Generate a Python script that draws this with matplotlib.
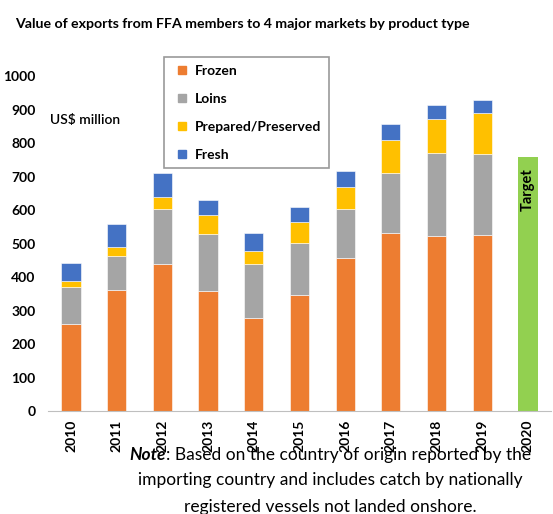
import numpy as np
import matplotlib.pyplot as plt
from matplotlib.lines import Line2D

plt.rcParams['font.family'] = ['Lato', 'DejaVu Sans']

# values in US$ million
years = ['2010', '2011', '2012', '2013', '2014', '2015', '2016', '2017', '2018', '2019', '2020']
frozen = [259, 361, 439, 360, 277, 348, 456, 533, 523, 525]
loins = [113, 101, 165, 169, 162, 153, 147, 179, 247, 243]
prepared = [16, 29, 35, 55, 40, 65, 67, 96, 101, 122]
fresh = [53, 68, 71, 47, 54, 43, 48, 48, 44, 40]
target = 760

colors = {'Frozen': '#ED7D31', 'Loins': '#A5A5A5',
          'Prepared/Preserved': '#FFC000', 'Fresh': '#4472C4'}

fig = plt.figure(figsize=(5.53, 5.14), dpi=100)
ax = fig.add_axes([0.087, 0.2, 0.909, 0.652])

x = np.arange(len(frozen))
w = 0.42
bottom = np.zeros(len(frozen))
for name, vals in [('Frozen', frozen), ('Loins', loins),
                   ('Prepared/Preserved', prepared), ('Fresh', fresh)]:
    ax.bar(x, vals, w, bottom=bottom, color=colors[name], label=name,
           edgecolor='white', linewidth=0.4)
    bottom += np.array(vals)

# 2020 target bar
ax.bar(len(frozen), target, w, color='#92D050')
ax.text(len(frozen), 660, 'Target', rotation=90, ha='center', va='center',
        fontsize=10.5, fontweight='bold')

ax.set_xlim(-0.5, 10.5)
ax.set_ylim(0, 1000)
ax.set_yticks(range(0, 1001, 100))
ax.set_xticks(range(len(years)))
ax.set_xticklabels(years, rotation=90, fontsize=10, fontweight='bold')
for lab in ax.get_yticklabels():
    lab.set_fontweight('bold')
    lab.set_fontsize(10)
ax.tick_params(axis='both', length=0, pad=6)
ax.tick_params(axis='y', pad=9)
for s in ['top', 'right', 'left']:
    ax.spines[s].set_visible(False)
ax.spines['bottom'].set_color('#BFBFBF')

ax.text(-0.46, 870, 'US$ million', fontsize=10, fontweight='semibold', va='center')

# legend with small square markers
handles = [Line2D([], [], marker='s', linestyle='none', markersize=6,
                  color=c, label=n) for n, c in colors.items()]
leg = ax.legend(handles=handles, loc='upper left', bbox_to_anchor=(0.23, 1.057),
                fontsize=10, frameon=True, fancybox=False, handlelength=1.6,
                labelspacing=1.15, borderpad=0.55, handletextpad=0.1,
                borderaxespad=0)
leg.get_frame().set_edgecolor('#808080')
leg.get_frame().set_linewidth(1.2)
for t in leg.get_texts():
    t.set_fontweight('bold')

fig.text(0.027, 0.953, 'Value of exports from FFA members to 4 major markets by product type',
         fontsize=10.2, fontweight='bold', va='center')

# note below the chart, "Note" in bold italic followed by plain text
fig.canvas.draw()
r = fig.canvas.get_renderer()
t1 = fig.text(0, 0, 'Note', fontsize=12.5, fontweight='bold', style='italic',
              va='center')
t2 = fig.text(0, 0, ': Based on the country of origin reported by the',
              fontsize=12.5, va='center')
w1 = t1.get_window_extent(r).width / fig.bbox.width
w2 = t2.get_window_extent(r).width / fig.bbox.width
x0 = 0.597 - (w1 + w2) / 2
y1 = 1 - 455 / 514
t1.set_position((x0, y1))
t2.set_position((x0 + w1, y1))
fig.text(0.597, 1 - 480 / 514, 'importing country and includes catch by nationally',
         ha='center', va='center', fontsize=12.5)
fig.text(0.597, 1 - 507 / 514, 'registered vessels not landed onshore.',
         ha='center', va='center', fontsize=12.5)

fig.savefig('out.png', dpi=100)
